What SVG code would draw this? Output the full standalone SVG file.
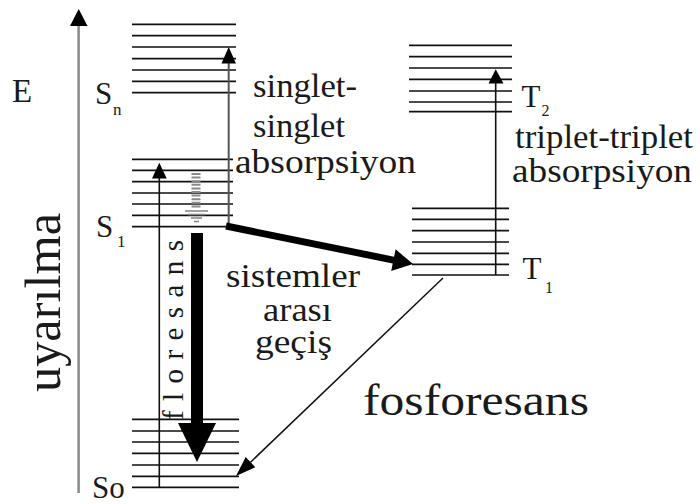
<svg xmlns="http://www.w3.org/2000/svg" width="700" height="504" viewBox="0 0 700 504">
<style>
.level{fill:none;stroke:#111;stroke-width:1.7}
.t{font-family:'Liberation Serif','DejaVu Serif','Times New Roman',serif;fill:#1a1a1a;font-size:33px}
.lab{font-family:'Liberation Serif','DejaVu Serif','Times New Roman',serif;fill:#1a1a1a}
.ln{stroke:#111;stroke-width:1.6;fill:none}
.head{fill:#000}
</style>
<rect width="700" height="504" fill="#fff"/>
<g id="axis">
<line x1="78.6" y1="24" x2="78.6" y2="493" stroke="#888" stroke-width="2.5"/>
<polygon class="head" points="78.7,9 70,26 87.5,26"/>
<text class="lab" font-family="Liberation Serif, DejaVu Serif, serif" x="12" y="102" font-size="33">E</text>
<text class="lab" font-family="Liberation Serif, DejaVu Serif, serif" font-size="50" transform="translate(60,392) rotate(-90)" textLength="179" lengthAdjust="spacingAndGlyphs">uyarılma</text>
</g>
<g id="Sn">
<path class="level" d="M132 24.3H236M132 35.7H236M132 47H236M132 58.7H236M132 70H236M132 81.3H236M132 92.7H236"/>
<text class="lab" font-family="Liberation Serif, DejaVu Serif, serif" x="95" y="104" font-size="31">S</text>
<text class="lab" font-family="Liberation Serif, DejaVu Serif, serif" x="113" y="115" font-size="17">n</text>
</g>
<g id="S1">
<path class="level" d="M132 159.3H233M132 170.3H233M132 181.7H233M132 193H233M132 204H233M132 215.3H233M132 226.7H233"/>
<text class="lab" font-family="Liberation Serif, DejaVu Serif, serif" x="96" y="236.5" font-size="31">S</text>
<text class="lab" font-family="Liberation Serif, DejaVu Serif, serif" x="117" y="247" font-size="17">1</text>
</g>
<g id="So">
<path class="level" d="M132 419.3H239M132 431H239M132 442H239M132 453.3H239M132 465H239M132 476.3H239M132 487.3H239"/>
<text class="lab" font-family="Liberation Serif, DejaVu Serif, serif" x="92" y="498" font-size="31">So</text>
</g>
<g id="T2">
<path class="level" d="M409 45.3H512M409 56.7H512M409 68H512M409 79.3H512M409 91H512M409 102H512M409 111.7H512"/>
<text class="lab" font-family="Liberation Serif, DejaVu Serif, serif" x="521.5" y="107" font-size="31">T</text>
<text class="lab" font-family="Liberation Serif, DejaVu Serif, serif" x="541.5" y="116" font-size="16">2</text>
</g>
<g id="T1">
<path class="level" d="M412 208.3H509M412 219.3H509M412 230.7H509M412 242H509M412 253.3H509M412 264.3H509M412 275H509"/>
<text class="lab" font-family="Liberation Serif, DejaVu Serif, serif" x="522.5" y="278.5" font-size="31">T</text>
<text class="lab" font-family="Liberation Serif, DejaVu Serif, serif" x="545" y="293" font-size="16">1</text>
</g>
<g id="connectors">
<line x1="228.7" y1="228" x2="228.7" y2="62" stroke="#555" stroke-width="2"/>
<polygon class="head" points="228.7,47 221.5,63.5 236,63.5"/>
<line class="ln" x1="159.3" y1="487" x2="159.3" y2="177"/>
<polygon class="head" points="159.3,162.7 152,178.5 166.7,178.5"/>
<line class="ln" x1="495.7" y1="275" x2="495.7" y2="82"/>
<polygon class="head" points="495.7,69.3 488.5,83.5 503.5,83.5"/>
<g stroke="#8a8a8a" fill="none">
<line x1="196" y1="173" x2="196" y2="208" stroke-width="9" stroke-dasharray="2 1.6"/>
<line x1="185" y1="211" x2="208" y2="211" stroke-width="1.6"/>
<line x1="188" y1="214.5" x2="205" y2="214.5" stroke-width="1.6"/>
<line x1="191" y1="218" x2="202" y2="218" stroke-width="1.6"/>
<line x1="194" y1="221.5" x2="199" y2="221.5" stroke-width="1.6"/>
</g>
<rect x="191" y="233" width="12" height="191" fill="#000"/>
<polygon class="head" points="178,423 216,423 197,462"/>
<polygon class="head" points="226.7,222.6 394.1,256.7 395.6,249.3 413,264 391.2,270.9 392.7,263.5 225.3,229.4"/>
<line x1="443" y1="278" x2="250.5" y2="462.2" stroke="#111" stroke-width="1.5"/>
<polygon class="head" points="236,476 255.3,467.3 245.7,457.1"/>
</g>
<g id="labels" font-family="Liberation Serif, DejaVu Serif, serif">
<text class="t" font-family="Liberation Serif, DejaVu Serif, serif" x="253" y="97" textLength="104" lengthAdjust="spacingAndGlyphs">singlet-</text>
<text class="t" font-family="Liberation Serif, DejaVu Serif, serif" x="253" y="137" textLength="92" lengthAdjust="spacingAndGlyphs">singlet</text>
<text class="t" font-family="Liberation Serif, DejaVu Serif, serif" x="235" y="173" textLength="181" lengthAdjust="spacingAndGlyphs">absorpsiyon</text>
<text class="t" font-family="Liberation Serif, DejaVu Serif, serif" x="515" y="148" textLength="178" lengthAdjust="spacingAndGlyphs">triplet-triplet</text>
<text class="t" font-family="Liberation Serif, DejaVu Serif, serif" x="512" y="182" textLength="180" lengthAdjust="spacingAndGlyphs">absorpsiyon</text>
<text class="t" font-family="Liberation Serif, DejaVu Serif, serif" x="226" y="287" textLength="134" lengthAdjust="spacingAndGlyphs">sistemler</text>
<text class="t" font-family="Liberation Serif, DejaVu Serif, serif" x="263" y="321" textLength="69" lengthAdjust="spacingAndGlyphs">arası</text>
<text class="t" font-family="Liberation Serif, DejaVu Serif, serif" x="255" y="353" textLength="77" lengthAdjust="spacingAndGlyphs">geçiş</text>
<text class="lab" font-family="Liberation Serif, DejaVu Serif, serif" x="363" y="415" font-size="45" textLength="226" lengthAdjust="spacingAndGlyphs">fosforesans</text>
<text class="lab" font-family="Liberation Serif, DejaVu Serif, serif" font-size="29" transform="translate(183,420) rotate(-90)" textLength="180" lengthAdjust="spacing">floresans</text>
</g>
</svg>
